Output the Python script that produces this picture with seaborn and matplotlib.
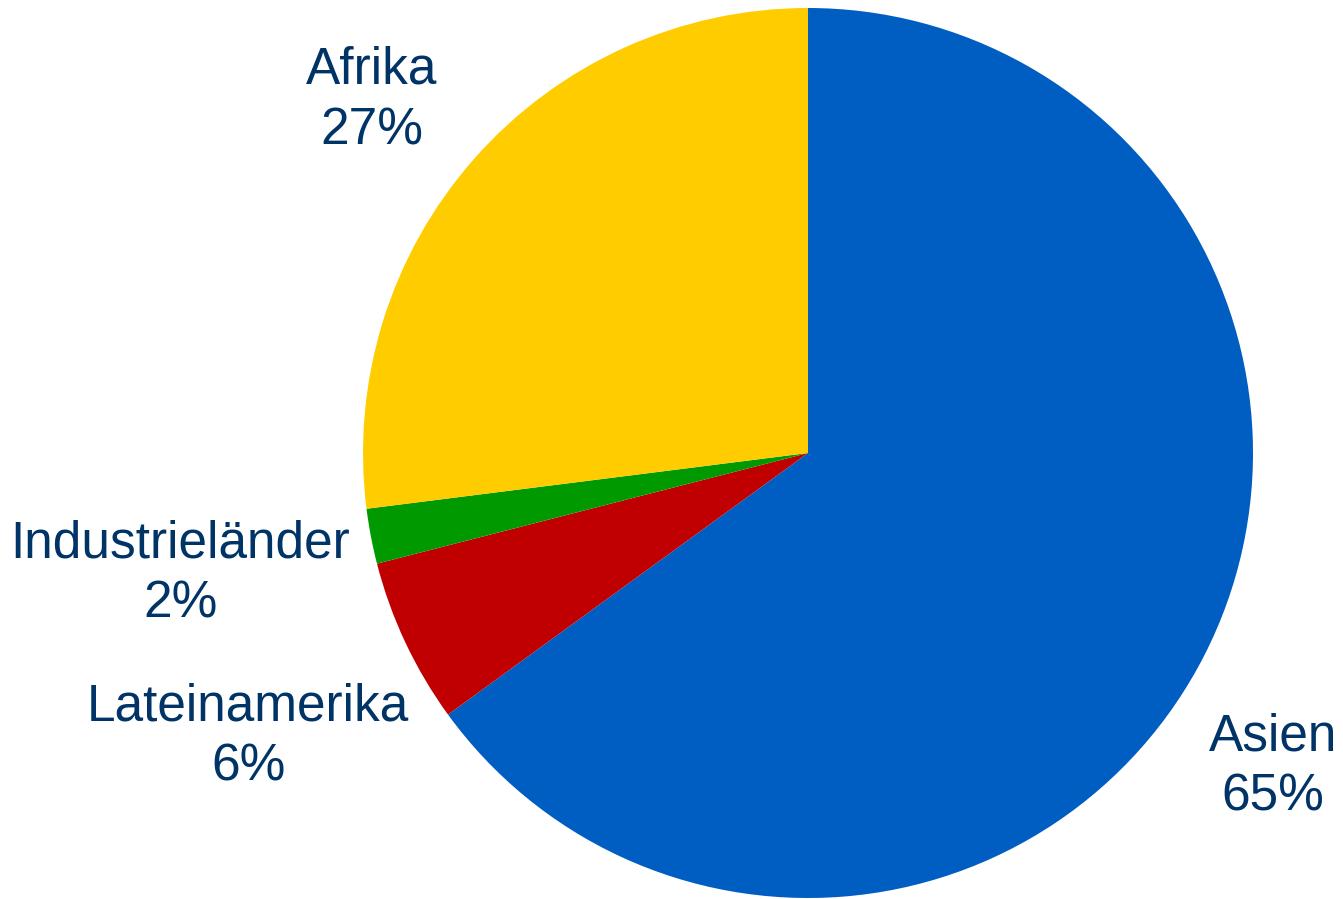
import matplotlib
matplotlib.use("Agg")
import matplotlib.pyplot as plt
import seaborn as sns

# Regions and their shares (percent)
regions = ["Asien", "Lateinamerika", "Industrieländer", "Afrika"]
shares = [65, 6, 2, 27]
colors = ["#005EC2", "#C00000", "#009900", "#FFCC00"]

sns.set_theme(style="white")
plt.rcParams["font.family"] = ["Liberation Sans", "DejaVu Sans"]

W, H = 1343, 899
fig = plt.figure(figsize=(W / 100, H / 100), dpi=100)
cx, cy, r = 808, 453, 445
ax = fig.add_axes([(cx - r) / W, (H - cy - r) / H, 2 * r / W, 2 * r / H])

ax.pie(shares, colors=colors, startangle=90, counterclock=False, radius=1.0,
       wedgeprops=dict(linewidth=0))
ax.set_xlim(-1, 1)
ax.set_ylim(-1, 1)
ax.set_aspect("equal")
ax.axis("off")

# Label anchors in data units (pie radius = 1)
label_pos = {
    "Asien": (1.045, -0.705),
    "Lateinamerika": (-1.258, -0.638),
    "Industrieländer": (-1.411, -0.272),
    "Afrika": (-0.98, 0.792),
}
for name, val in zip(regions, shares):
    x, y = label_pos[name]
    ax.text(x, y, f"{name}\n{val}%", ha="center", va="center", fontsize=37,
            color="#003366", linespacing=1.3, clip_on=False)

fig.savefig("out.png", dpi=100, facecolor="white")
